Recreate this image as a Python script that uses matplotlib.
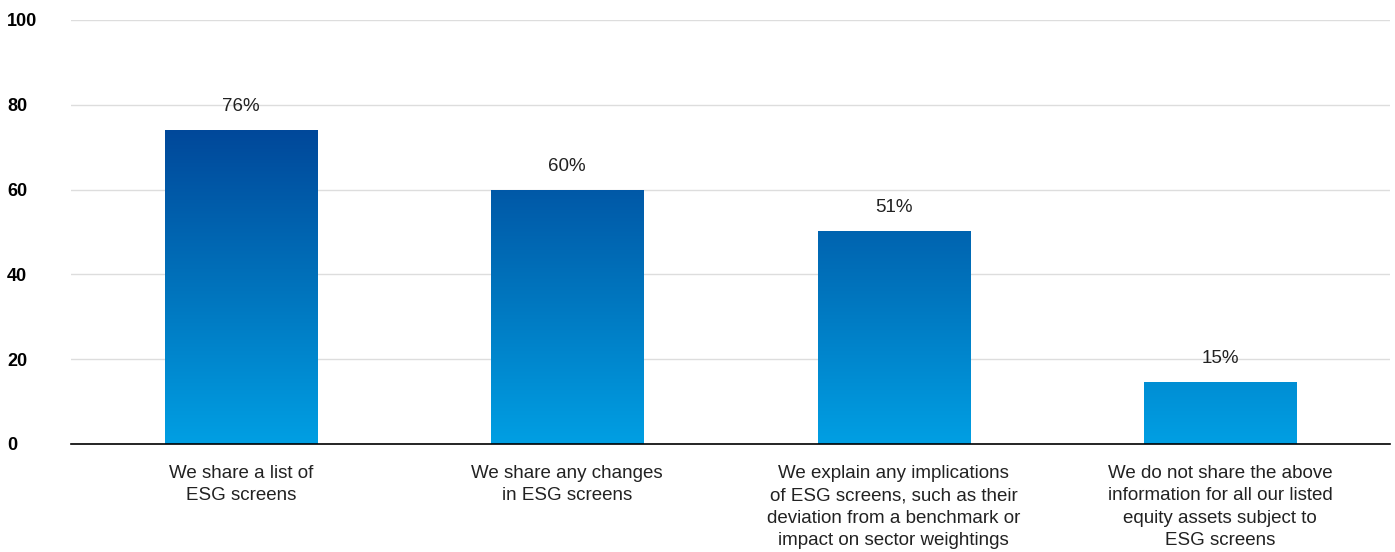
import matplotlib
matplotlib.use("Agg")
import matplotlib.pyplot as plt
import numpy as np
from matplotlib.colors import LinearSegmentedColormap

categories = [
    "We share a list of\nESG screens",
    "We share any changes\nin ESG screens",
    "We explain any implications\nof ESG screens, such as their\ndeviation from a benchmark or\nimpact on sector weightings",
    "We do not share the above\ninformation for all our listed\nequity assets subject to\nESG screens",
]
values = [74, 60, 50.2, 14.7]
value_labels = ["76%", "60%", "51%", "15%"]
yticks = [0, 20, 40, 60, 80, 100]

plt.rcParams['font.family'] = ['Liberation Sans', 'DejaVu Sans']

fig = plt.figure(figsize=(13.95, 5.52), dpi=100)
ax = fig.add_axes([71/1395, 1 - 444/552, (1390-71)/1395, (444-20)/552])

cmap = LinearSegmentedColormap.from_list("g", ["#009FE3", "#0073BC", "#00489A"])
x = np.arange(len(categories))
bars = ax.bar(x, values, width=0.466, color="none", zorder=2)
grad = np.linspace(0, 1, 256).reshape(-1, 1)
top = max(values)
for b in bars:
    im = ax.imshow(grad, cmap=cmap, origin="lower", aspect="auto",
                   extent=[b.get_x(), b.get_x() + b.get_width(), 0, top], zorder=2)
    im.set_clip_path(b)

for xi, v, lab in zip(x, values, value_labels):
    ax.text(xi, v + 3.5, lab, ha="center", va="bottom", fontsize=13.5, color="#222222")

ax.set_xlim(-0.52, 3.52)
ax.set_ylim(0, 100)
ax.set_yticks(yticks)
ax.yaxis.grid(True, color="#DDDDDD", linewidth=1)
ax.set_axisbelow(True)
for s in ["top", "right", "left"]:
    ax.spines[s].set_visible(False)
ax.spines["bottom"].set_color("black")
ax.spines["bottom"].set_linewidth(1.2)
ax.spines["bottom"].set_zorder(3)
ax.tick_params(axis="both", length=0)
ax.set_yticklabels([str(t) for t in yticks], fontsize=13, fontweight="bold", ha="left")
ax.tick_params(axis="y", pad=46)
ax.set_xticks(x)
ax.set_xticklabels(categories, fontsize=13.5, linespacing=1.42, color="#222222")
ax.tick_params(axis="x", pad=15)

fig.savefig("out.png", dpi=100)
